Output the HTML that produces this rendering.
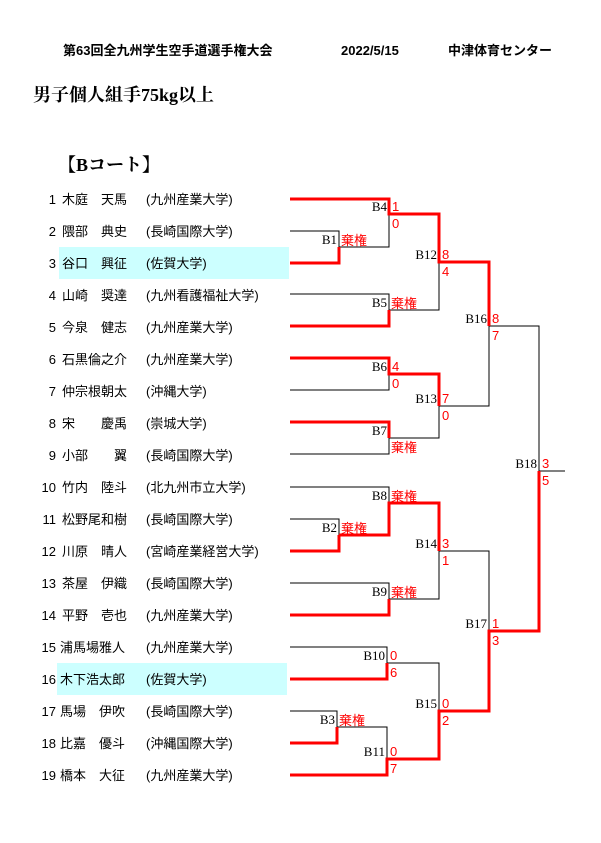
<!DOCTYPE html>
<html><head><meta charset="utf-8">
<style>
html,body{margin:0;padding:0;background:#fff;}
svg{display:block;}
.n{font-family:"Liberation Sans","Noto Sans CJK JP",sans-serif;font-size:13px;fill:#000;}
.h{font-family:"Liberation Sans","Noto Sans CJK JP",sans-serif;font-size:13px;font-weight:bold;fill:#000;}
.t{font-family:"Liberation Serif","Noto Serif CJK SC",serif;font-size:18px;font-weight:bold;fill:#000;}
.b{font-family:"Liberation Serif","Noto Serif CJK SC",serif;font-size:13px;fill:#000;}
.s{font-family:"Liberation Sans","Noto Sans CJK JP",sans-serif;font-size:13px;fill:#f00;}
</style></head><body>
<svg width="601" height="843" xmlns="http://www.w3.org/2000/svg">
<text class="h" x="63" y="55">第63回全九州学生空手道選手権大会</text>
<text class="h" x="341" y="55">2022/5/15</text>
<text class="h" x="448" y="55">中津体育センター</text>
<text class="t" x="33" y="101">男子個人組手75kg以上</text>
<text class="t" x="58" y="171">【Bコート】</text>
<rect x="59" y="247" width="230" height="32" fill="#ccffff"/>
<rect x="57" y="663" width="230" height="32" fill="#ccffff"/>
<g class="n">
<text x="56" y="204" text-anchor="end">1</text><text x="62" y="204">木庭　天馬</text><text x="146" y="204">(九州産業大学)</text>
<text x="56" y="236" text-anchor="end">2</text><text x="62" y="236">隈部　典史</text><text x="146" y="236">(長崎国際大学)</text>
<text x="56" y="268" text-anchor="end">3</text><text x="62" y="268">谷口　興征</text><text x="146" y="268">(佐賀大学)</text>
<text x="56" y="300" text-anchor="end">4</text><text x="62" y="300">山崎　奨達</text><text x="146" y="300">(九州看護福祉大学)</text>
<text x="56" y="332" text-anchor="end">5</text><text x="62" y="332">今泉　健志</text><text x="146" y="332">(九州産業大学)</text>
<text x="56" y="364" text-anchor="end">6</text><text x="62" y="364">石黒倫之介</text><text x="146" y="364">(九州産業大学)</text>
<text x="56" y="396" text-anchor="end">7</text><text x="62" y="396">仲宗根朝太</text><text x="146" y="396">(沖縄大学)</text>
<text x="56" y="428" text-anchor="end">8</text><text x="62" y="428">宋　　慶禹</text><text x="146" y="428">(崇城大学)</text>
<text x="56" y="460" text-anchor="end">9</text><text x="62" y="460">小部　　翼</text><text x="146" y="460">(長崎国際大学)</text>
<text x="56" y="492" text-anchor="end">10</text><text x="62" y="492">竹内　陸斗</text><text x="146" y="492">(北九州市立大学)</text>
<text x="56" y="524" text-anchor="end">11</text><text x="62" y="524">松野尾和樹</text><text x="146" y="524">(長崎国際大学)</text>
<text x="56" y="556" text-anchor="end">12</text><text x="62" y="556">川原　晴人</text><text x="146" y="556">(宮崎産業経営大学)</text>
<text x="56" y="588" text-anchor="end">13</text><text x="62" y="588">茶屋　伊織</text><text x="146" y="588">(長崎国際大学)</text>
<text x="56" y="620" text-anchor="end">14</text><text x="62" y="620">平野　壱也</text><text x="146" y="620">(九州産業大学)</text>
<text x="56" y="652" text-anchor="end">15</text><text x="60" y="652">浦馬場雅人</text><text x="146" y="652">(九州産業大学)</text>
<text x="56" y="684" text-anchor="end">16</text><text x="60" y="684">木下浩太郎</text><text x="146" y="684">(佐賀大学)</text>
<text x="56" y="716" text-anchor="end">17</text><text x="60" y="716">馬場　伊吹</text><text x="146" y="716">(長崎国際大学)</text>
<text x="56" y="748" text-anchor="end">18</text><text x="60" y="748">比嘉　優斗</text><text x="146" y="748">(沖縄国際大学)</text>
<text x="56" y="780" text-anchor="end">19</text><text x="60" y="780">橋本　大征</text><text x="146" y="780">(九州産業大学)</text>
</g>
<g fill="none" stroke="#000" stroke-width="1">
<polyline points="290,231 339,231 339,247"/>
<polyline points="339,247 389,247 389,214"/>
<polyline points="290,294 389,294 389,310"/>
<polyline points="389,310 439,310 439,262"/>
<polyline points="389,374 389,390 290,390"/>
<polyline points="439,406 489,406 489,326 539,326 539,471 565,471"/>
<polyline points="389,438 439,438 439,406"/>
<polyline points="290,454 389,454 389,438"/>
<polyline points="290,487 389,487 389,503"/>
<polyline points="290,519 339,519 339,535"/>
<polyline points="439,551 489,551 489,631"/>
<polyline points="389,599 439,599 439,551"/>
<polyline points="290,583 389,583 389,599"/>
<polyline points="290,647 387,647 387,663 439,663 439,711"/>
<polyline points="290,711 337,711 337,727 387,727 387,759"/>
</g>
<g fill="none" stroke="#f00" stroke-width="3">
<polyline points="290,199 389,199 389,214 439,214 439,262 489,262 489,326"/>
<polyline points="290,263 339,263 339,247"/>
<polyline points="290,326 389,326 389,310"/>
<polyline points="290,358 389,358 389,374 439,374 439,406"/>
<polyline points="290,422 389,422 389,438"/>
<polyline points="339,535 389,535 389,503 439,503 439,551"/>
<polyline points="290,551 339,551 339,535"/>
<polyline points="290,615 389,615 389,599"/>
<polyline points="290,679 387,679 387,663"/>
<polyline points="290,743 337,743 337,727"/>
<polyline points="290,775 387,775 387,759 439,759 439,711 489,711 489,631 539,631 539,471"/>
</g>
<g class="b" text-anchor="end">
<text x="387" y="211">B4</text>
<text x="337" y="244">B1</text>
<text x="387" y="307">B5</text>
<text x="437" y="259">B12</text>
<text x="487" y="323">B16</text>
<text x="387" y="371">B6</text>
<text x="437" y="403">B13</text>
<text x="387" y="435">B7</text>
<text x="537" y="468">B18</text>
<text x="387" y="500">B8</text>
<text x="337" y="532">B2</text>
<text x="437" y="548">B14</text>
<text x="387" y="596">B9</text>
<text x="487" y="628">B17</text>
<text x="385" y="660">B10</text>
<text x="437" y="708">B15</text>
<text x="335" y="724">B3</text>
<text x="385" y="756">B11</text>
</g>
<g class="s">
<text x="392" y="211">1</text><text x="392" y="228">0</text>
<text x="341" y="245">棄権</text>
<text x="391" y="308">棄権</text>
<text x="442" y="259">8</text><text x="442" y="276">4</text>
<text x="492" y="323">8</text><text x="492" y="340">7</text>
<text x="392" y="371">4</text><text x="392" y="388">0</text>
<text x="442" y="403">7</text><text x="442" y="420">0</text>
<text x="391" y="452">棄権</text>
<text x="542" y="468">3</text><text x="542" y="485">5</text>
<text x="391" y="501">棄権</text>
<text x="341" y="533">棄権</text>
<text x="442" y="548">3</text><text x="442" y="565">1</text>
<text x="391" y="597">棄権</text>
<text x="492" y="628">1</text><text x="492" y="645">3</text>
<text x="390" y="660">0</text><text x="390" y="677">6</text>
<text x="442" y="708">0</text><text x="442" y="725">2</text>
<text x="339" y="725">棄権</text>
<text x="390" y="756">0</text><text x="390" y="773">7</text>
</g>
</svg>
</body></html>
